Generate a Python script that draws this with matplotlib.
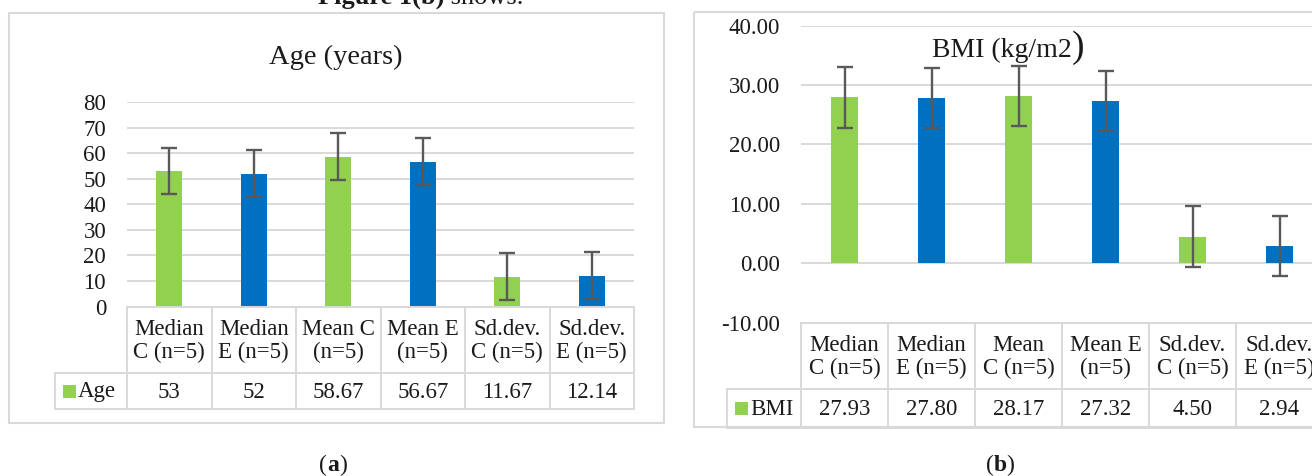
import matplotlib
matplotlib.use("Agg")
import matplotlib.pyplot as plt
import matplotlib.transforms as mtransforms
from matplotlib.lines import Line2D
from matplotlib.patches import Rectangle

# ---- data -----------------------------------------------------------
age_categories = ["Median\nC (n=5)", "Median\nE (n=5)", "Mean C\n(n=5)",
                  "Mean E\n(n=5)", "Sd.dev.\nC (n=5)", "Sd.dev.\nE (n=5)"]
bmi_categories = ["Median\nC (n=5)", "Median\nE (n=5)", "Mean\nC (n=5)",
                  "Mean E\n(n=5)", "Sd.dev.\nC (n=5)", "Sd.dev.\nE (n=5)"]
age_values = [53, 52, 58.67, 56.67, 11.67, 12.14]
bmi_values = [27.93, 27.80, 28.17, 27.32, 4.50, 2.94]
age_err = 9.16   # standard error bars
bmi_err = 5.08
age_ticks = [0, 10, 20, 30, 40, 50, 60, 70, 80]
bmi_ticks = [-10, 0, 10, 20, 30, 40]

GREEN = "#92D050"
BLUE = "#0070C0"
bar_colors = [GREEN, BLUE, GREEN, BLUE, GREEN, BLUE]
GRID = "#D9D9D9"
ERR_GRAY = "#595959"
TXT = "#1a1a1a"
FS = 16.5

plt.rcParams.update({
    "font.family": ["Liberation Serif", "DejaVu Serif"],
    "font.size": FS,
    "axes.unicode_minus": False,
    "text.color": TXT,
})

W, H = 1312, 476
fig = plt.figure(figsize=(W / 100, H / 100), dpi=100)
# pixel coordinates measured from the top-left corner
PX = mtransforms.Affine2D().scale(1 / W, -1 / H).translate(0, 1) + fig.transFigure


def axes_px(x0, y0, x1, y1):
    return fig.add_axes([x0 / W, 1 - y1 / H, (x1 - x0) / W, (y1 - y0) / H])


def hline(x0, x1, y):
    fig.add_artist(Line2D([x0, x1], [y, y], transform=PX, color=GRID, lw=1.4))


def vline(x, y0, y1):
    fig.add_artist(Line2D([x, x], [y0, y1], transform=PX, color=GRID, lw=1.4))


def text_runs(x, y, runs, ha="center"):
    """Place pieces of text one after another on a shared baseline."""
    r = fig.canvas.get_renderer()
    objs = [fig.text(0, y, s, transform=PX, va="baseline", **kw) for s, kw in runs]
    widths = [t.get_window_extent(r).width for t in objs]
    start = x - sum(widths) / 2 if ha == "center" else x
    for t, w in zip(objs, widths):
        t.set_x(start)
        start += w


def draw_chart(box, rows, leg_x, values, err, ticks, fmt, cats, labels, name):
    x0, y_top, x1, y_axis = box
    ax = axes_px(x0, y_top, x1, y_axis)
    pos = list(range(len(values)))
    ax.bar(pos, values, width=0.31, color=bar_colors, zorder=2)
    ax.errorbar(pos, values, yerr=err, fmt="none", ecolor=ERR_GRAY,
                elinewidth=1.7, capsize=5.5, capthick=1.7, zorder=3)
    ax.set_xlim(-0.5, len(values) - 0.5)
    ax.set_ylim(ticks[0], ticks[-1])
    ax.set_yticks(ticks)
    ax.set_yticklabels([fmt.format(t) for t in ticks])
    ax.set_xticks([])
    ax.grid(axis="y", color=GRID, lw=1.4, zorder=0)
    ax.set_axisbelow(True)
    for s in ax.spines.values():
        s.set_visible(False)
    ax.tick_params(axis="y", length=0, pad=15, labelsize=FS, labelcolor=TXT)

    # data table under the plot
    y_head, y_mid, y_bot = rows
    n = len(values)
    col_w = (x1 - x0) / n
    hline(x0, x1, y_head)
    hline(leg_x, x1, y_mid)
    hline(leg_x, x1, y_bot)
    for i in range(n + 1):
        vline(x0 + i * col_w, y_head, y_bot)
    vline(leg_x, y_mid, y_bot)
    for i in range(n):
        cx = x0 + (i + 0.5) * col_w
        fig.text(cx, (y_head + y_mid) / 2 + 1, cats[i], transform=PX,
                 ha="center", va="center", fontsize=FS, linespacing=1.1)
        fig.text(cx, (y_mid + y_bot) / 2 + 1, labels[i], transform=PX,
                 ha="center", va="center", fontsize=FS)
    yc = (y_mid + y_bot) / 2
    fig.add_artist(Rectangle((leg_x + 8, yc - 6.5), 13, 13, transform=PX,
                             color=GREEN, lw=0))
    fig.text(leg_x + 23, yc + 1, name, transform=PX, ha="left", va="center",
             fontsize=FS)
    return ax


# panel frames
fig.add_artist(Rectangle((9, 13), 655, 410, transform=PX, fill=False,
                         ec=GRID, lw=1.5))
fig.add_artist(Rectangle((694, 12), 700, 415, transform=PX, fill=False,
                         ec=GRID, lw=1.5))

# (a) age
draw_chart((127, 102, 634, 306.6), (306.6, 373, 409), 55,
           age_values, age_err, age_ticks, "{:d}", age_categories,
           [f"{v:g}" for v in age_values], "Age")
text_runs(336, 64, [("Age (years)", dict(fontsize=20.5))])

# (b) BMI
draw_chart((801, 25.7, 1323, 322.7), (322.7, 389, 428), 727,
           bmi_values, bmi_err, bmi_ticks, "{:.2f}", bmi_categories,
           [f"{v:.2f}" for v in bmi_values], "BMI")
text_runs(1008, 57, [("BMI (kg/m2", dict(fontsize=20)),
                     (")", dict(fontsize=27))])

# running text cut at the top and sub-figure captions
text_runs(318, 4, [("Figure 1(b)", dict(fontsize=19, fontweight="bold")),
                   (" shows.", dict(fontsize=19))], ha="left")
text_runs(333, 471, [("(", dict(fontsize=17)),
                     ("a", dict(fontsize=17, fontweight="bold")),
                     (")", dict(fontsize=17))])
text_runs(1000, 471, [("(", dict(fontsize=17)),
                      ("b", dict(fontsize=17, fontweight="bold")),
                      (")", dict(fontsize=17))])

fig.savefig("out.png", dpi=100, facecolor="white")
